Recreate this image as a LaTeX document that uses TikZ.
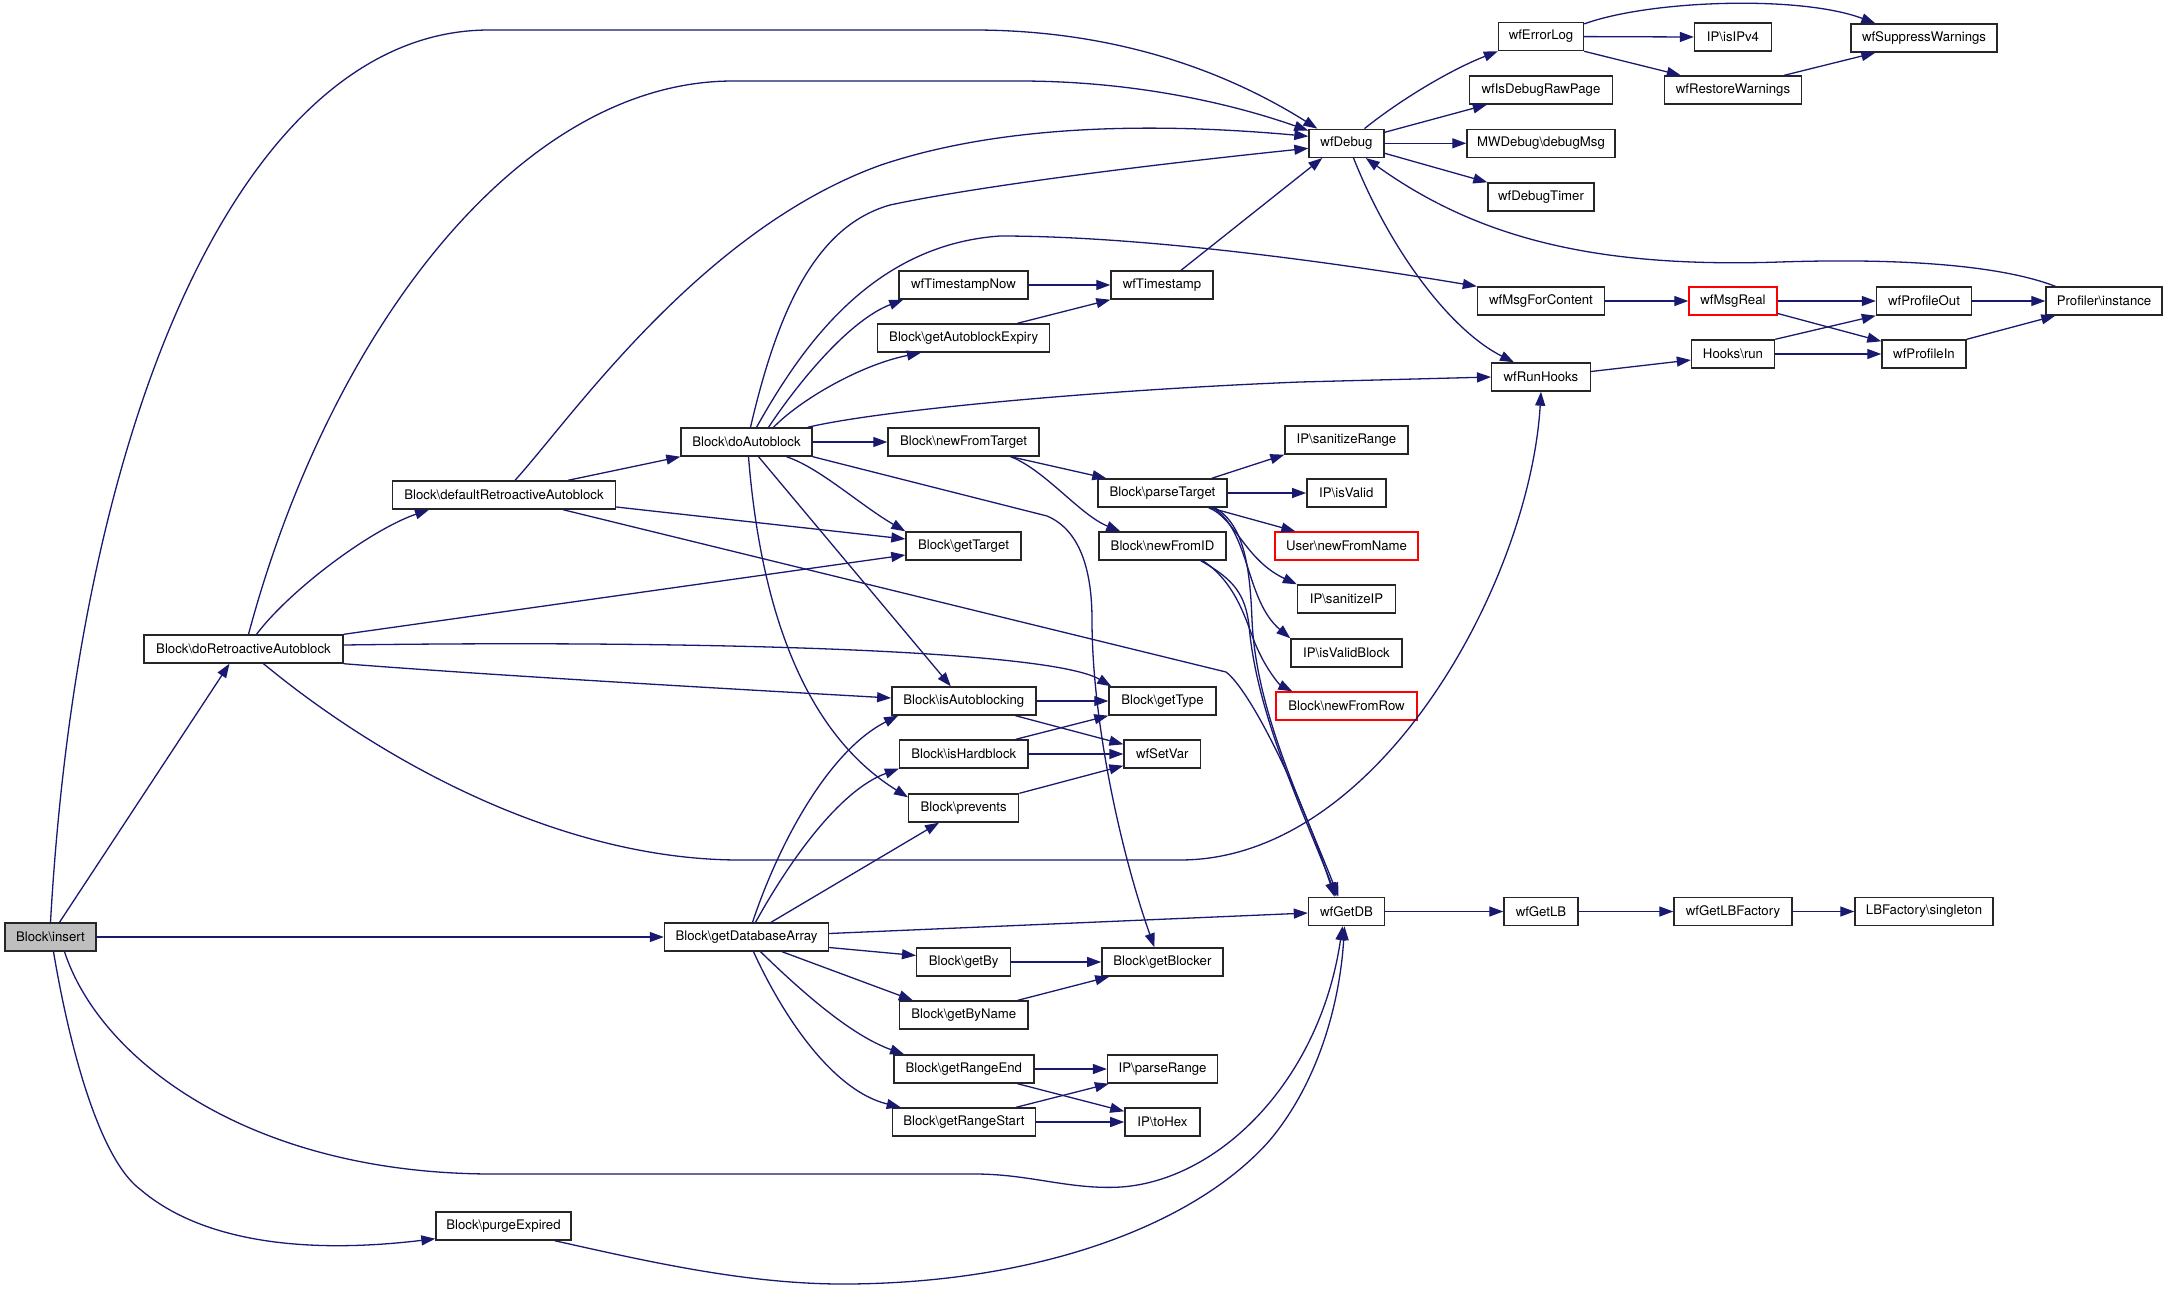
\documentclass[tikz,border=0pt]{standalone}
\usepackage{fontspec}
\setmainfont{TeX Gyre Heros}
\usetikzlibrary{arrows.meta}
\definecolor{edgec}{RGB}{25,25,112}
\definecolor{nodefill}{RGB}{191,191,191}
\begin{document}
\begin{tikzpicture}[x=1pt,y=-1pt,
 box/.style={draw=black!85, line width=1.4pt, fill=white, minimum height=28pt, inner sep=0pt, font=\fontsize{13.2}{15}\selectfont},
 redbox/.style={box, draw=red},
 e/.style={draw=edgec, line width=1.3pt, -{Triangle[length=14pt,width=10pt]}}]
\useasboundingbox[fill=white] (0,0) rectangle (2168,1290);

\node[box,fill=nodefill,minimum width=91pt] (ins) at (50.5,937) {Block\textbackslash insert};
\node[box,minimum width=199pt] (dra) at (243.5,649) {Block\textbackslash doRetroactiveAutoblock};
\node[box,minimum width=135pt] (purge) at (503.5,1226) {Block\textbackslash purgeExpired};
\node[box,minimum width=223pt] (dfr) at (504,495) {Block\textbackslash defaultRetroactiveAutoblock};
\node[box,minimum width=131pt] (dab) at (746.5,442) {Block\textbackslash doAutoblock};
\node[box,minimum width=164pt] (gda) at (746.5,937) {Block\textbackslash getDatabaseArray};
\node[box,minimum width=129pt] (tsn) at (963.4,285) {wfTimestampNow};
\node[box,minimum width=172pt] (gae) at (963.7,338) {Block\textbackslash getAutoblockExpiry};
\node[box,minimum width=151pt] (nft) at (963.5,442) {Block\textbackslash newFromTarget};
\node[box,minimum width=115pt] (gtg) at (963.5,546) {Block\textbackslash getTarget};
\node[box,minimum width=144pt] (iab) at (963.8,701) {Block\textbackslash isAutoblocking};
\node[box,minimum width=128.5pt] (ihb) at (963.8,754) {Block\textbackslash isHardblock};
\node[box,minimum width=110pt] (prv) at (963.7,808) {Block\textbackslash prevents};
\node[box,minimum width=94pt] (gby) at (963.7,962) {Block\textbackslash getBy};
\node[box,minimum width=128.5pt] (gbn) at (963.8,1015) {Block\textbackslash getByName};
\node[box,minimum width=140pt] (gre) at (963.8,1069) {Block\textbackslash getRangeEnd};
\node[box,minimum width=143pt] (grs) at (963.9,1122) {Block\textbackslash getRangeStart};
\node[box,minimum width=102pt] (ts) at (1162,285) {wfTimestamp};
\node[box,minimum width=129pt] (pt) at (1162.5,493) {Block\textbackslash parseTarget};
\node[box,minimum width=127pt] (nid) at (1162.5,546) {Block\textbackslash newFromID};
\node[box,minimum width=107pt] (gty) at (1162.5,701) {Block\textbackslash getType};
\node[box,minimum width=76.5pt] (sv) at (1162.3,754) {wfSetVar};
\node[box,minimum width=121pt] (gbl) at (1162.4,962) {Block\textbackslash getBlocker};
\node[box,minimum width=110pt] (ipr) at (1162.6,1069) {IP\textbackslash parseRange};
\node[box,minimum width=75pt] (thx) at (1162.4,1122) {IP\textbackslash toHex};
\node[box,minimum width=75pt] (dbg) at (1346.5,143.3) {wfDebug};
\node[box,minimum width=123pt] (isr) at (1346.5,440) {IP\textbackslash sanitizeRange};
\node[box,minimum width=79pt] (iv) at (1346.3,493) {IP\textbackslash isValid};
\node[redbox,minimum width=143pt] (nfn) at (1346.5,546) {User\textbackslash newFromName};
\node[box,minimum width=98pt] (sip) at (1346.5,599) {IP\textbackslash sanitizeIP};
\node[box,minimum width=111pt] (ivb) at (1346.5,653) {IP\textbackslash isValidBlock};
\node[redbox,minimum width=141pt] (nfr) at (1346.5,706) {Block\textbackslash newFromRow};
\node[box,minimum width=76pt] (gdb) at (1346.5,911.5) {wfGetDB};
\node[box,minimum width=85pt] (elog) at (1541,36.6) {wfErrorLog};
\node[box,minimum width=143pt] (idrp) at (1541,90) {wfIsDebugRawPage};
\node[box,minimum width=148pt] (mwd) at (1541,143.3) {MWDebug\textbackslash debugMsg};
\node[box,minimum width=106pt] (dbt) at (1541,197) {wfDebugTimer};
\node[box,minimum width=127pt] (mfc) at (1541,301) {wfMsgForContent};
\node[box,minimum width=98.6pt] (rh) at (1541,377) {wfRunHooks};
\node[box,minimum width=74pt] (glb) at (1541,911.5) {wfGetLB};
\node[box,minimum width=77pt] (ipv4) at (1733,37) {IP\textbackslash isIPv4};
\node[box,minimum width=137pt] (rw) at (1733,90) {wfRestoreWarnings};
\node[redbox,minimum width=88pt] (mr) at (1733,301) {wfMsgReal};
\node[box,minimum width=83pt] (hr) at (1733,354) {Hooks\textbackslash run};
\node[box,minimum width=118pt] (glbf) at (1733,911.5) {wfGetLBFactory};
\node[box,minimum width=146pt] (sw) at (1924,38) {wfSuppressWarnings};
\node[box,minimum width=95pt] (po) at (1924,301) {wfProfileOut};
\node[box,minimum width=84pt] (pfi) at (1924,354) {wfProfileIn};
\node[box,minimum width=138pt] (lbs) at (1924,911.5) {LBFactory\textbackslash singleton};
\node[box,minimum width=116pt] (pin) at (2104,301) {Profiler\textbackslash instance};

% Block\insert
\draw[e] (ins.north) .. controls (80,400) and (250,30) .. (489,30) -- (973,30) .. controls (1130,30) and (1240,80) .. ([xshift=9pt]dbg.north west);
\draw[e] ([xshift=9pt]ins.north) -- ([xshift=-14pt]dra.south);
\draw[e] (ins.east) -- (gda.west);
\draw[e] ([xshift=14pt]ins.south) .. controls (100,1060) and (250,1174) .. (493,1174) -- (975,1174) .. controls (1030,1174) and (1070,1190) .. (1121,1187) .. controls (1220,1180) and (1320,1080) .. ([xshift=-4pt]gdb.south);
\draw[e] ([xshift=3pt]ins.south) .. controls (70,1050) and (100,1160) .. (141,1190) .. controls (200,1240) and (300,1255) .. ([yshift=2pt]purge.south west);
% purgeExpired
\draw[e] ([xshift=-17pt]purge.south east) .. controls (650,1262) and (750,1285) .. (850,1284) .. controls (1050,1282) and (1200,1220) .. (1270,1140) .. controls (1320,1080) and (1340,1000) .. ([xshift=-2pt]gdb.south);
% doRetroactiveAutoblock
\draw[e] ([xshift=13pt]dra.north) .. controls (290,590) and (370,530) .. ([xshift=-75pt]dfr.south);
\draw[e] ([xshift=5pt]dra.north) .. controls (330,330) and (520,81) .. (733,81) -- (1019,81) .. controls (1150,81) and (1250,110) .. ([yshift=-2pt]dbg.north west);
\draw[e] (dra.north east) -- ([yshift=-9pt]gtg.west);
\draw[e] ([yshift=4pt]dra.east) .. controls (700,640) and (1050,650) .. ([xshift=3pt]gty.north west);
\draw[e] (dra.south east) .. controls (500,676) and (750,690) .. ([yshift=3pt]iab.west);
\draw[e] ([xshift=20pt]dra.south) .. controls (380,760) and (560,860) .. (740,860) -- (1180,860) .. controls (1380,860) and (1530,580) .. (rh.south);
% defaultRetroactiveAutoblock
\draw[e] ([xshift=64pt]dfr.north) -- (dab.south west);
\draw[e] ([xshift=11pt]dfr.north) .. controls (570,420) and (700,230) .. (881,165) .. controls (1000,125) and (1150,122) .. ([yshift=7pt]dbg.west);
\draw[e] ([yshift=-12pt]dfr.east) -- ([yshift=7pt]gtg.west);
\draw[e] ([xshift=59pt]dfr.south) -- (1226,672) .. controls (1250,690) and (1300,790) .. ([xshift=-12pt]gdb.north);
% doAutoblock
\draw[e] ([xshift=4pt]dab.north) .. controls (780,300) and (820,225) .. (890,205) .. controls (960,190) and (1100,170) .. ([yshift=-5pt]dbg.west);
\draw[e] ([xshift=10pt]dab.north) .. controls (800,350) and (870,245) .. (1000,236) .. controls (1150,236) and (1350,265) .. (mfc.north west);
\draw[e] ([xshift=22pt]dab.north) .. controls (800,380) and (850,320) .. ([xshift=5pt]tsn.south west);
\draw[e] ([xshift=27pt]dab.north) .. controls (800,400) and (860,365) .. ([xshift=44pt]gae.south west);
\draw[e] ([xshift=-5pt]dab.north east) .. controls (880,410) and (1100,390) .. (1300,382) -- (rh.west);
\draw[e] (dab.east) -- (nft.west);
\draw[e] ([xshift=40pt]dab.south) .. controls (820,468) and (860,505) .. (gtg.north west);
\draw[e] (dab.south east) -- (1047,516) .. controls (1080,530) and (1092,570) .. (1092,620) .. controls (1092,720) and (1120,850) .. ([xshift=-8pt]gbl.north);
\draw[e] ([xshift=12pt]dab.south) -- ([xshift=-13pt]iab.north);
\draw[e] ([xshift=2pt]dab.south) .. controls (760,600) and (800,730) .. ([yshift=-4pt]prv.north west);
% newFromTarget
\draw[e] ([xshift=-29pt]nft.south east) -- ([xshift=9pt]pt.north west);
\draw[e] ([xshift=-29pt]nft.south east) .. controls (1045,470) and (1080,515) .. ([xshift=22pt]nid.north west);
% timestamps
\draw[e] (tsn.east) -- (ts.west);
\draw[e] ([xshift=-33pt]gae.north east) -- (ts.south west);
\draw[e] ([xshift=19pt]ts.north) -- ([xshift=14pt]dbg.south west);
% parseTarget
\draw[e] ([xshift=-16pt]pt.north east) -- (isr.south west);
\draw[e] (pt.east) -- (iv.west);
\draw[e] ([xshift=-18pt]pt.south east) -- ([xshift=21pt]nfn.north west);
\draw[e] ([xshift=-19pt]pt.south east) .. controls (1235,518) and (1245,560) .. (sip.north west);
\draw[e] ([xshift=-15pt]pt.south east) .. controls (1250,530) and (1245,600) .. (ivb.north west);
\draw[e] ([xshift=-13pt]pt.south east) .. controls (1245,525) and (1250,570) .. (1252,620) .. controls (1256,710) and (1300,800) .. ([xshift=-8pt]gdb.north);
% newFromID
\draw[e] ([xshift=-26pt]nid.south east) .. controls (1235,580) and (1245,595) .. (1249,625) .. controls (1256,710) and (1298,800) .. ([xshift=-10pt]gdb.north);
\draw[e] ([xshift=-24pt]nid.south east) .. controls (1240,585) and (1248,630) .. (1258,650) .. controls (1268,672) and (1280,685) .. ([xshift=17pt]nfr.north west);
% getDatabaseArray
\draw[e] ([xshift=6pt]gda.north) .. controls (780,840) and (830,750) .. ([xshift=7pt]iab.south west);
\draw[e] ([xshift=9pt]gda.north) .. controls (790,860) and (840,790) .. (ihb.south west);
\draw[e] ([xshift=24.5pt]gda.north) -- ([xshift=31pt]prv.south west);
\draw[e] ([yshift=3.5pt]gda.east) -- ([yshift=-1.5pt]gdb.west);
\draw[e] ([yshift=-10.5pt]gda.east) -- ([yshift=6.5pt]gby.west);
\draw[e] ([xshift=35.5pt]gda.south) -- ([xshift=14pt]gbn.north west);
\draw[e] ([xshift=14pt]gda.south) .. controls (800,990) and (850,1035) .. ([xshift=11pt]gre.north west);
\draw[e] ([xshift=7pt]gda.south) .. controls (780,1010) and (830,1090) .. ([xshift=9pt]grs.north west);
% middle column
\draw[e] (iab.east) -- (gty.west);
\draw[e] ([xshift=-21pt]iab.south east) -- ([yshift=-5pt]sv.north west);
\draw[e] ([xshift=-13pt]ihb.north east) -- (gty.south west);
\draw[e] (ihb.east) -- (sv.west);
\draw[e] (prv.north east) -- ([yshift=3pt]sv.south west);
\draw[e] (gby.east) -- (gbl.west);
\draw[e] ([xshift=-11pt]gbn.north east) -- ([xshift=8pt]gbl.south west);
\draw[e] (gre.east) -- (ipr.west);
\draw[e] ([xshift=-17pt]gre.south east) -- ([yshift=-4pt]thx.north west);
\draw[e] ([xshift=-20pt]grs.north east) -- ([xshift=2pt]ipr.south west);
\draw[e] (grs.east) -- (thx.west);
% wfGetDB chain
\draw[e] (gdb.east) -- (glb.west);
\draw[e] (glb.east) -- (glbf.west);
\draw[e] (glbf.east) -- (lbs.west);
% wfDebug
\draw[e] ([xshift=18pt]dbg.north) .. controls (1400,100) and (1450,70) .. (elog.south west);
\draw[e] ([yshift=11pt]dbg.east) -- ([xshift=18pt]idrp.south west);
\draw[e] (dbg.east) -- (mwd.west);
\draw[e] ([yshift=-10pt]dbg.east) -- (dbt.north west);
\draw[e] ([xshift=7pt]dbg.south) .. controls (1390,250) and (1450,330) .. ([xshift=23pt]rh.north west);
% wfErrorLog
\draw[e] (elog.east) -- (ipv4.west);
\draw[e] ([yshift=-2pt]elog.north east) .. controls (1650,0) and (1800,-5) .. ([xshift=25pt]sw.north west);
\draw[e] (elog.south east) -- ([xshift=17pt]rw.north west);
\draw[e] ([xshift=-18pt]rw.north east) -- ([xshift=25pt]sw.south west);
% messages and profiling
\draw[e] (mfc.east) -- (mr.west);
\draw[e] (mr.east) -- (po.west);
\draw[e] ([yshift=-12.5pt]mr.east) -- ([yshift=-2pt]pfi.north west);
\draw[e] (po.east) -- (pin.west);
\draw[e] (pfi.north east) -- ([xshift=10pt]pin.south west);
\draw[e] (hr.north east) -- (po.south west);
\draw[e] (hr.east) -- (pfi.west);
\draw[e] ([yshift=5.5pt]rh.east) -- ([yshift=-6pt]hr.west);
\draw[e] ([xshift=10pt]pin.north west) .. controls (2000,265) and (1900,258) .. (1780,262) .. controls (1600,268) and (1480,240) .. ([xshift=-19pt]dbg.south east);
\end{tikzpicture}
\end{document}
